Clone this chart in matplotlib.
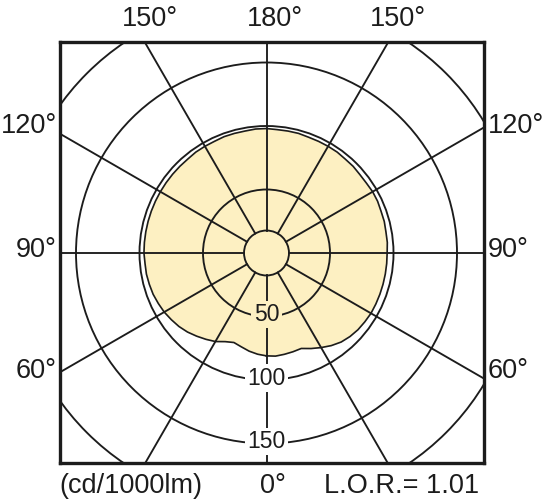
# -*- coding: utf-8 -*-
"""
Polar light distribution diagram (cd/1000lm)
"""

import numpy as np
import matplotlib.pyplot as plt
from matplotlib.patches import Circle

plt.rcParams['font.family'] = ['Liberation Sans', 'DejaVu Sans']

# Angles measured from nadir (0 = down, 90 = right, 180 = up, 270 = left)
angles = [0, 5, 10, 15, 20, 25, 30, 35, 40, 45, 50, 55, 60, 65, 70, 75,
          80, 85, 90, 95, 100, 105, 110, 115, 120, 125, 130, 135, 140, 145,
          150, 155, 160, 165, 170, 175, 180, 185, 190, 195, 200, 205, 210,
          215, 220, 225, 230, 235, 240, 245, 250, 255, 260, 265, 270, 275,
          280, 285, 290, 295, 300, 305, 310, 315, 320, 325, 330, 335, 340,
          345, 350, 355]

# Luminous intensity in cd/1000lm for each angle
intensity = [81, 81.5, 81, 80.5, 80, 83, 86, 89, 91.5, 93, 94, 94.5, 95,
             95, 95, 95, 95, 95, 95, 95.5, 95.5, 96, 96, 96.5, 96.5, 96, 96,
             96.5, 96.5, 97, 97, 97, 97, 97.5, 97.5, 97.5, 98, 98, 97.5,
             97.5, 97.5, 97, 97, 97, 96.5, 96.5, 96.5, 96.5, 96.5, 96.5,
             96.5, 96.5, 96.5, 96.5, 96.5, 96, 96, 95.5, 95, 94, 93, 91.5,
             90, 88, 85.5, 83, 80.5, 77, 75, 76.5, 78.5, 80]

# Grid settings
ring_values = [50, 100, 150, 200]
ring_labels = ['50', '100', '150']
radial_angles = np.arange(0, 360, 30)
hub_radius = 17.7

# Angle labels round the frame
top_labels = ['150°', '180°', '150°']
side_labels = ['120°', '90°', '60°']

fill_color = '#fdf0c2'
line_color = '#1c1c1c'

# 546 x 500 px figure, box drawn by the axes frame
fig = plt.figure(figsize=(5.46, 5.0), dpi=100)
px = 1.27  # pixels per cd
ax = fig.add_axes([60 / 546, 37 / 500, 424 / 546, 421 / 500])
ax.set_xlim(-206.5 / px, 217.5 / px)
ax.set_ylim(-210 / px, 211 / px)
ax.set_xticks([])
ax.set_yticks([])
for spine in ax.spines.values():
    spine.set_linewidth(2.4)
    spine.set_color(line_color)

# Light distribution curve
theta = np.radians(angles)
r = np.array(intensity)
x = r * np.sin(theta)
y = -r * np.cos(theta)
ax.fill(x, y, color=fill_color, zorder=1)
ax.plot(np.append(x, x[0]), np.append(y, y[0]), color=line_color,
        lw=1.2, zorder=2)

# Rings
for value in ring_values:
    ax.add_patch(Circle((0, 0), value, fill=False, ec=line_color,
                        lw=1.35, zorder=2))
ax.add_patch(Circle((0, 0), hub_radius, fill=False, ec=line_color,
                    lw=1.35, zorder=2))

# Radial lines
for a in np.radians(radial_angles):
    ax.plot([hub_radius * np.sin(a), 400 * np.sin(a)],
            [-hub_radius * np.cos(a), -400 * np.cos(a)],
            color=line_color, lw=1.35, zorder=2)

# Ring labels along the 0 degree line
for value, label in zip(ring_values, ring_labels):
    bg = fill_color if value < 80 else 'white'
    ax.text(0, -value + 1.5, label, ha='center', va='center',
            fontsize=16.5, color=line_color, zorder=3,
            bbox=dict(boxstyle='square,pad=0.1', fc=bg, ec='none'))

# Frame labels
W, H = 546, 500
for xp, label in zip([150, 275, 398], top_labels):
    fig.text(xp / W, 1 - 26 / H, label, ha='center', va='baseline',
             fontsize=19.5, color=line_color)
for yp, label in zip([133, 257, 378], side_labels):
    fig.text(57 / W, 1 - yp / H, label, ha='right', va='baseline',
             fontsize=19.5, color=line_color)
    fig.text(488 / W, 1 - yp / H, label, ha='left', va='baseline',
             fontsize=19.5, color=line_color)

fig.text(59 / W, 1 - 493 / H, '(cd/1000lm)', ha='left', va='baseline',
         fontsize=19.5, color=line_color)
fig.text(273 / W, 1 - 493 / H, '0°', ha='center', va='baseline',
         fontsize=19.5, color=line_color)
fig.text(479 / W, 1 - 493 / H, 'L.O.R.= 1.01', ha='right', va='baseline',
         fontsize=19.5, color=line_color)

plt.savefig('out.png', dpi=100)
